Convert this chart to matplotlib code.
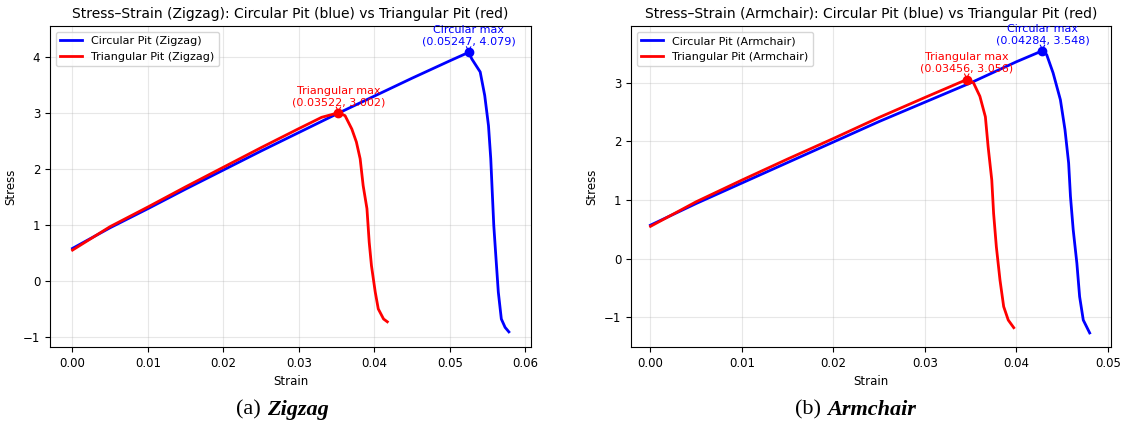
import matplotlib
matplotlib.use("Agg")
import matplotlib.pyplot as plt

# Zigzag curves
zz_circ_strain = [0, 0.005, 0.01, 0.015, 0.02, 0.025, 0.03, 0.035, 0.04, 0.045, 0.05, 0.05247,
                  0.0529, 0.054, 0.0546, 0.0551, 0.0554, 0.0556, 0.0558, 0.0561, 0.0564, 0.0568, 0.0573, 0.0578]
zz_circ_stress = [0.58, 0.95, 1.29, 1.64, 1.98, 2.32, 2.65, 2.98, 3.30, 3.62, 3.93, 4.079,
                  3.96, 3.73, 3.31, 2.77, 2.18, 1.58, 0.99, 0.39, -0.20, -0.68, -0.83, -0.91]
zz_tri_strain = [0, 0.005, 0.01, 0.015, 0.02, 0.025, 0.03, 0.033, 0.03522, 0.0361, 0.037, 0.0376,
                 0.0381, 0.0385, 0.039, 0.0393, 0.0396, 0.0401, 0.0405, 0.0412, 0.0417]
zz_tri_stress = [0.55, 0.97, 1.32, 1.68, 2.03, 2.38, 2.72, 2.92, 3.002, 2.95, 2.71, 2.48,
                 2.18, 1.70, 1.29, 0.69, 0.27, -0.20, -0.50, -0.68, -0.73]

# Armchair curves
ac_circ_strain = [0, 0.005, 0.01, 0.015, 0.02, 0.025, 0.03, 0.035, 0.04, 0.04284, 0.0433, 0.044,
                  0.0448, 0.0453, 0.0457, 0.0459, 0.0462, 0.0466, 0.0469, 0.0473, 0.0480]
ac_circ_stress = [0.57, 0.94, 1.29, 1.64, 1.99, 2.34, 2.67, 3.0, 3.36, 3.548, 3.48, 3.17,
                  2.71, 2.20, 1.63, 1.06, 0.49, -0.08, -0.65, -1.05, -1.27]
ac_tri_strain = [0, 0.005, 0.01, 0.015, 0.02, 0.025, 0.03, 0.03456, 0.0353, 0.036, 0.0366, 0.0369,
                 0.0373, 0.0375, 0.0378, 0.0382, 0.0386, 0.0391, 0.0397]
ac_tri_stress = [0.55, 0.97, 1.34, 1.70, 2.05, 2.41, 2.75, 3.056, 3.0, 2.77, 2.42, 1.91,
                 1.34, 0.77, 0.20, -0.37, -0.82, -1.05, -1.18]

panels = [
    ("Zigzag", zz_circ_strain, zz_circ_stress, zz_tri_strain, zz_tri_stress,
     (-0.00298, 0.06073), (-1.18, 4.55), [0, 0.01, 0.02, 0.03, 0.04, 0.05, 0.06], [-1, 0, 1, 2, 3, 4]),
    ("Armchair", ac_circ_strain, ac_circ_stress, ac_tri_strain, ac_tri_stress,
     (-0.00213, 0.05033), (-1.51, 3.97), [0, 0.01, 0.02, 0.03, 0.04, 0.05], [-1, 0, 1, 2, 3]),
]
captions = [("(a)", "Zigzag", 261, 267), ("(b)", "Armchair", 821, 827)]

W, H = 1121, 426
fig = plt.figure(figsize=(W / 100, H / 100), dpi=100)
boxes = [(50, 531), (631, 1111)]

for (name, cx, cy, tx, ty, xl, yl, xt, yt), (x0, x1) in zip(panels, boxes):
    ax = fig.add_axes([x0 / W, (H - 347) / H, (x1 - x0) / W, (347 - 26) / H])
    ax.plot(cx, cy, color="blue", lw=2, label=f"Circular Pit ({name})")
    ax.plot(tx, ty, color="red", lw=2, label=f"Triangular Pit ({name})")
    for xs, ys, col, lab in [(cx, cy, "blue", "Circular max"), (tx, ty, "red", "Triangular max")]:
        i = ys.index(max(ys))
        ax.plot(xs[i], ys[i], "o", color=col, ms=6)
        ax.annotate(f"{lab}\n({xs[i]:.5f}, {ys[i]:.3f})", xy=(xs[i], ys[i]), xytext=(0, 4),
                    textcoords="offset points", ha="center", va="bottom", color=col, fontsize=8,
                    arrowprops=dict(arrowstyle="->", color=col, lw=0.8))
    ax.set_xlim(*xl)
    ax.set_ylim(*yl)
    ax.set_xticks(xt)
    ax.set_yticks(yt)
    ax.tick_params(labelsize=8.5)
    ax.grid(True, alpha=0.3)
    ax.set_xlabel("Strain", fontsize=8.5)
    ax.set_ylabel("Stress", fontsize=8.5)
    ax.set_title(f"Stress\u2013Strain ({name}): Circular Pit (blue) vs Triangular Pit (red)", fontsize=10)
    ax.legend(loc="upper left", fontsize=8)

for lab, name, xa, xb in captions:
    fig.text(xa / W, 1 - 410 / H, lab, ha="right", va="center", fontsize=16, family="Liberation Serif")
    fig.text(xb / W, 1 - 410 / H, name, ha="left", va="center", fontsize=16, family="Liberation Serif",
             style="italic", weight="bold")

fig.savefig("out.png", dpi=100)
